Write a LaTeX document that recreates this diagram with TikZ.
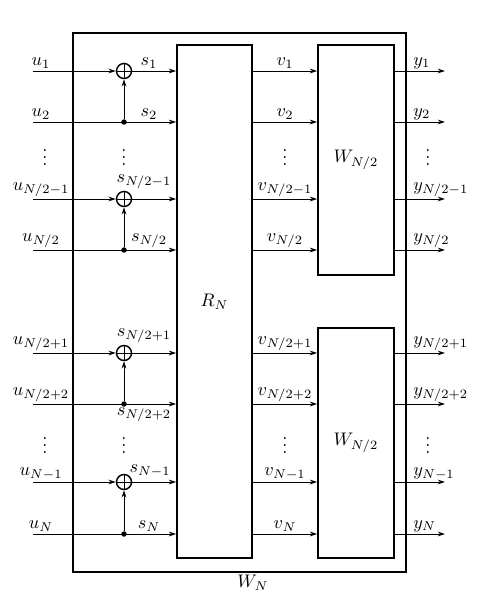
\documentclass[tikz,border=0pt]{standalone}
\usepackage{amsmath,amssymb}
\usepackage{tikz}
\usetikzlibrary{arrows.meta,positioning,calc}

\begin{document}
\begin{tikzpicture}[x=0.0193cm, y=-0.0193cm, >={Stealth[length=4pt,width=2.6pt]}, line width=0.5pt,
  block/.style={draw, line width=0.9pt, inner sep=0pt},
  adder/.style={draw, circle, line width=0.8pt, minimum size=0.29cm, inner sep=0pt,
    path picture={\draw[line width=0.45pt] (path picture bounding box.north) -- (path picture bounding box.south)
      (path picture bounding box.west) -- (path picture bounding box.east);}},
  junc/.style={circle, fill, inner sep=0pt, minimum size=3pt},
  lab/.style={inner sep=1pt},
  dotcol/.style={inner sep=0pt}]

\useasboundingbox (0,0) rectangle (489,602);

% blocks
\node[block, line width=1.2pt, minimum width=6.43cm, minimum height=10.40cm] (wn) at (239.5,302.5) {};
\node[block, minimum width=1.45cm, minimum height=9.90cm] (rn) at (214.5,301.5) {$R_N$};
\node[block, minimum width=1.47cm, minimum height=4.44cm] (wa) at (356,160) {$W_{N/2}$};
\node[block, minimum width=1.47cm, minimum height=4.44cm] (wb) at (356,443) {$W_{N/2}$};
\node (wnlab) at (253,583) {$W_N$};

% inputs
\coordinate (u1) at (33,71);
\coordinate (u2) at (33,122);
\coordinate (u3) at (33,199);
\coordinate (u4) at (33,250);
\coordinate (u5) at (33,353);
\coordinate (u6) at (33,404);
\coordinate (u7) at (33,482);
\coordinate (u8) at (33,534);

% adders and branch points
\node[adder] (a1) at (124,71) {};
\node[adder] (a3) at (124,199) {};
\node[adder] (a5) at (124,353) {};
\node[adder] (a7) at (124,482) {};
\node[junc] (j2) at (124,122) {};
\node[junc] (j4) at (124,250) {};
\node[junc] (j6) at (124,404) {};
\node[junc] (j8) at (124,534) {};

\draw[->] (u1) -- (a1);
\draw[->] (u3) -- (a3);
\draw[->] (u5) -- (a5);
\draw[->] (u7) -- (a7);
\draw[->] (a1) -- (a1 -| rn.west);
\draw[->] (a3) -- (a3 -| rn.west);
\draw[->] (a5) -- (a5 -| rn.west);
\draw[->] (a7) -- (a7 -| rn.west);
\draw[->] (u2) -- (u2 -| rn.west);
\draw[->] (u4) -- (u4 -| rn.west);
\draw[->] (u6) -- (u6 -| rn.west);
\draw[->] (u8) -- (u8 -| rn.west);
\draw[->] (j2) -- (a1);
\draw[->] (j4) -- (a3);
\draw[->] (j6) -- (a5);
\draw[->] (j8) -- (a7);

% R_N to W_{N/2}
\draw[->] (rn.east |- u1) -- (wa.west |- u1);
\draw[->] (rn.east |- u2) -- (wa.west |- u2);
\draw[->] (rn.east |- u3) -- (wa.west |- u3);
\draw[->] (rn.east |- u4) -- (wa.west |- u4);
\draw[->] (rn.east |- u5) -- (wb.west |- u5);
\draw[->] (rn.east |- u6) -- (wb.west |- u6);
\draw[->] (rn.east |- u7) -- (wb.west |- u7);
\draw[->] (rn.east |- u8) -- (wb.west |- u8);

% outputs
\coordinate (y1) at (445,71);
\coordinate (y2) at (445,122);
\coordinate (y3) at (445,199);
\coordinate (y4) at (445,250);
\coordinate (y5) at (445,353);
\coordinate (y6) at (445,404);
\coordinate (y7) at (445,482);
\coordinate (y8) at (445,534);
\draw[->] (wa.east |- y1) -- (y1);
\draw[->] (wa.east |- y2) -- (y2);
\draw[->] (wa.east |- y3) -- (y3);
\draw[->] (wa.east |- y4) -- (y4);
\draw[->] (wb.east |- y5) -- (y5);
\draw[->] (wb.east |- y6) -- (y6);
\draw[->] (wb.east |- y7) -- (y7);
\draw[->] (wb.east |- y8) -- (y8);

% labels
\node[lab, above] (lu1) at (41,71) {$u_1$};
\node[lab, above] (lu2) at (41,122) {$u_2$};
\node[lab, above] (lu3) at (41,199) {$u_{N/2-1}$};
\node[lab, above] (lu4) at (41,250) {$u_{N/2}$};
\node[lab, above] (lu5) at (41,353) {$u_{N/2+1}$};
\node[lab, above] (lu6) at (41,404) {$u_{N/2+2}$};
\node[lab, above] (lu7) at (41,482) {$u_{N-1}$};
\node[lab, above] (lu8) at (41,534) {$u_N$};

\node[lab, above] (ls1) at (149,71) {$s_1$};
\node[lab, above] (ls2) at (149,122) {$s_2$};
\node[lab, above] (ls3) at (144,191) {$s_{N/2-1}$};
\node[lab, above] (ls4) at (149,250) {$s_{N/2}$};
\node[lab, above] (ls5) at (144,345) {$s_{N/2+1}$};
\node[lab, below] (ls6) at (144,405) {$s_{N/2+2}$};
\node[lab, above] (ls7) at (150,479) {$s_{N-1}$};
\node[lab, above] (ls8) at (149,534) {$s_N$};

\node[lab, above] (lv1) at (285,71) {$v_1$};
\node[lab, above] (lv2) at (285,122) {$v_2$};
\node[lab, above] (lv3) at (285,199) {$v_{N/2-1}$};
\node[lab, above] (lv4) at (285,250) {$v_{N/2}$};
\node[lab, above] (lv5) at (285,353) {$v_{N/2+1}$};
\node[lab, above] (lv6) at (285,404) {$v_{N/2+2}$};
\node[lab, above] (lv7) at (285,482) {$v_{N-1}$};
\node[lab, above] (lv8) at (285,534) {$v_N$};

\node[lab, above right] (ly1) at (411,71) {$y_1$};
\node[lab, above right] (ly2) at (411,122) {$y_2$};
\node[lab, above right] (ly3) at (411,199) {$y_{N/2-1}$};
\node[lab, above right] (ly4) at (411,250) {$y_{N/2}$};
\node[lab, above right] (ly5) at (411,353) {$y_{N/2+1}$};
\node[lab, above right] (ly6) at (411,404) {$y_{N/2+2}$};
\node[lab, above right] (ly7) at (411,482) {$y_{N-1}$};
\node[lab, above right] (ly8) at (411,534) {$y_N$};

% dots
\node[dotcol] (du1) at (45,152) {$\vdots$};
\node[dotcol] (ds1) at (124,152) {$\vdots$};
\node[dotcol] (dv1) at (285,152) {$\vdots$};
\node[dotcol] (dy1) at (428,152) {$\vdots$};
\node[dotcol] (du2) at (45,440) {$\vdots$};
\node[dotcol] (ds2) at (124,440) {$\vdots$};
\node[dotcol] (dv2) at (285,440) {$\vdots$};
\node[dotcol] (dy2) at (428,440) {$\vdots$};
\end{tikzpicture}
\end{document}
